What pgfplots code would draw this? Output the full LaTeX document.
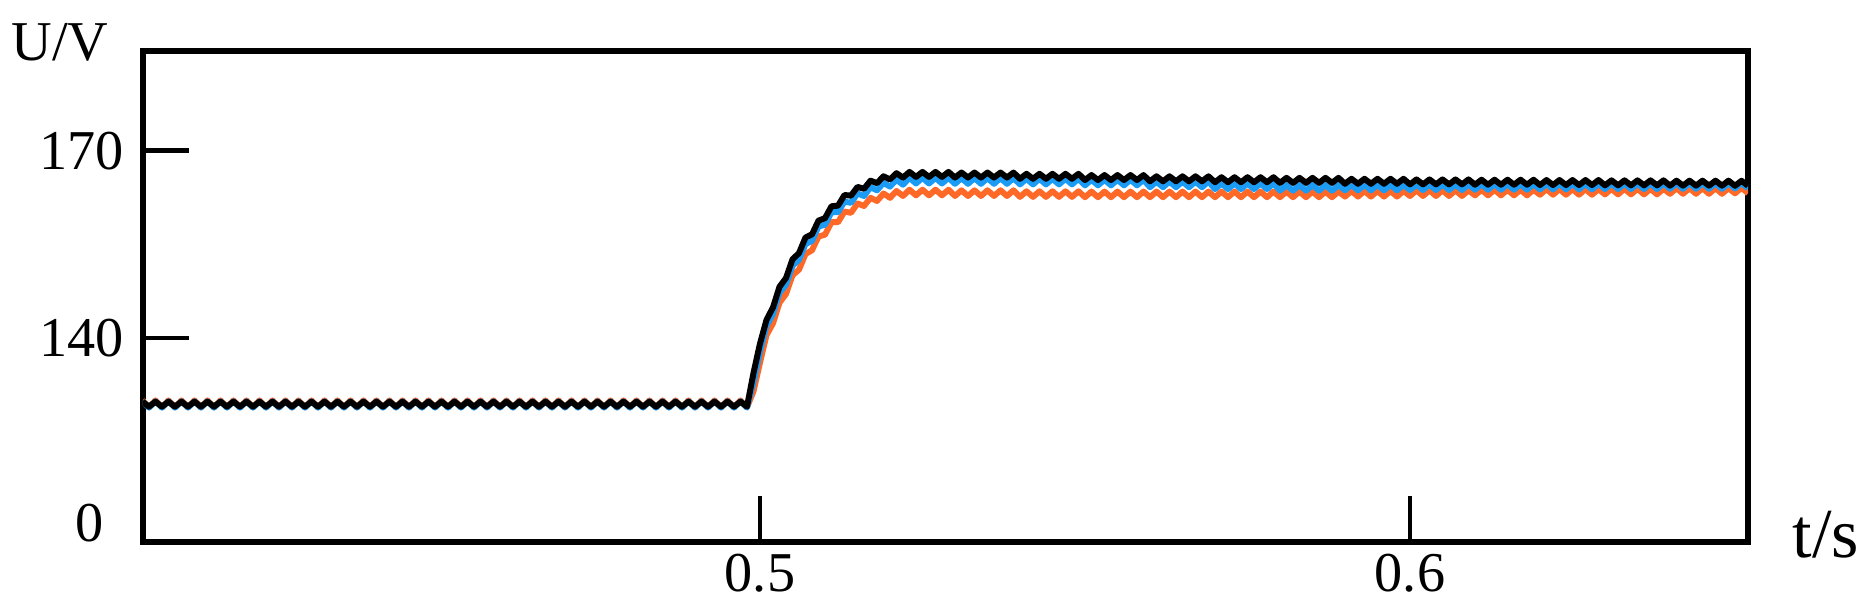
\documentclass[border=0pt]{standalone}
\usepackage{pgfplots}
\pgfplotsset{compat=1.18}
\usepackage{pgfplotstable}
\usepackage{fontspec}
\setmainfont{Liberation Serif}
\definecolor{cblue}{RGB}{28,155,245}
\definecolor{corange}{RGB}{255,105,40}
\pgfplotstableread{
t k b o
0.405 129.8 129.85 130.0
0.406 129.0 128.85 128.9
0.407 129.8 129.85 130.0
0.408 129.0 128.85 128.9
0.409 129.8 129.85 130.0
0.410 129.0 128.85 128.9
0.411 129.8 129.85 130.0
0.412 129.0 128.85 128.9
0.413 129.8 129.85 130.0
0.414 129.0 128.85 128.9
0.415 129.8 129.85 130.0
0.416 129.0 128.85 128.9
0.417 129.8 129.85 130.0
0.418 129.0 128.85 128.9
0.419 129.8 129.85 130.0
0.420 129.0 128.85 128.9
0.421 129.8 129.85 130.0
0.422 129.0 128.85 128.9
0.423 129.8 129.85 130.0
0.424 129.0 128.85 128.9
0.425 129.8 129.85 130.0
0.426 129.0 128.85 128.9
0.427 129.8 129.85 130.0
0.428 129.0 128.85 128.9
0.429 129.8 129.85 130.0
0.430 129.0 128.85 128.9
0.431 129.8 129.85 130.0
0.432 129.0 128.85 128.9
0.433 129.8 129.85 130.0
0.434 129.0 128.85 128.9
0.435 129.8 129.85 130.0
0.436 129.0 128.85 128.9
0.437 129.8 129.85 130.0
0.438 129.0 128.85 128.9
0.439 129.8 129.85 130.0
0.440 129.0 128.85 128.9
0.441 129.8 129.85 130.0
0.442 129.0 128.85 128.9
0.443 129.8 129.85 130.0
0.444 129.0 128.85 128.9
0.445 129.8 129.85 130.0
0.446 129.0 128.85 128.9
0.447 129.8 129.85 130.0
0.448 129.0 128.85 128.9
0.449 129.8 129.85 130.0
0.450 129.0 128.85 128.9
0.451 129.8 129.85 130.0
0.452 129.0 128.85 128.9
0.453 129.8 129.85 130.0
0.454 129.0 128.85 128.9
0.455 129.8 129.85 130.0
0.456 129.0 128.85 128.9
0.457 129.8 129.85 130.0
0.458 129.0 128.85 128.9
0.459 129.8 129.85 130.0
0.460 129.0 128.85 128.9
0.461 129.8 129.85 130.0
0.462 129.0 128.85 128.9
0.463 129.8 129.85 130.0
0.464 129.0 128.85 128.9
0.465 129.8 129.85 130.0
0.466 129.0 128.85 128.9
0.467 129.8 129.85 130.0
0.468 129.0 128.85 128.9
0.469 129.8 129.85 130.0
0.470 129.0 128.85 128.9
0.471 129.8 129.85 130.0
0.472 129.0 128.85 128.9
0.473 129.8 129.85 130.0
0.474 129.0 128.85 128.9
0.475 129.8 129.85 130.0
0.476 129.0 128.85 128.9
0.477 129.8 129.85 130.0
0.478 129.0 128.85 128.9
0.479 129.8 129.85 130.0
0.480 129.0 128.85 128.9
0.481 129.8 129.85 130.0
0.482 129.0 128.85 128.9
0.483 129.8 129.85 130.0
0.484 129.0 128.85 128.9
0.485 129.8 129.85 130.0
0.486 129.0 128.85 128.9
0.487 129.8 129.85 130.0
0.488 129.0 128.85 128.9
0.489 129.8 129.85 130.0
0.490 129.0 128.85 128.9
0.491 129.8 129.85 130.0
0.492 129.0 128.85 128.9
0.493 129.8 129.85 130.0
0.494 129.0 128.85 128.9
0.495 129.8 129.85 130.0
0.496 129.0 128.85 128.9
0.497 129.8 129.85 130.0
0.498 129.0 128.85 128.9
0.499 134.4 132.95 131.45
0.500 139.1 137.85 136.05
0.501 142.9 141.95 140.45
0.502 144.9 143.85 142.35
0.503 148.2 147.25 145.65
0.504 149.6 148.55 147.05
0.505 152.6 151.55 150.05
0.506 153.6 152.55 150.95
0.507 156.1 155.05 153.45
0.508 156.6 155.55 154.05
0.509 158.8 157.85 156.25
0.510 159.2 158.15 156.55
0.511 161.1 160.15 158.55
0.512 161.2 160.15 158.55
0.513 162.9 161.85 160.25
0.514 162.8 161.65 160.05
0.515 164.2 163.15 161.55
0.516 163.9 162.75 161.15
0.517 165.2 164.15 162.45
0.518 164.8 163.65 161.95
0.519 165.9 164.85 163.15
0.520 165.4 164.25 162.45
0.521 166.4 165.35 163.55
0.522 165.7 164.55 162.75
0.523 166.6 165.65 163.75
0.524 165.8 164.75 162.85
0.525 166.6 165.65 163.75
0.526 165.8 164.75 162.85
0.527 166.6 165.65 163.75
0.528 165.8 164.75 162.85
0.529 166.6 165.65 163.75
0.530 165.7 164.7 162.75
0.531 166.5 165.6 163.65
0.532 165.7 164.7 162.75
0.533 166.5 165.6 163.65
0.534 165.7 164.7 162.75
0.535 166.5 165.6 163.65
0.536 165.7 164.7 162.75
0.537 166.5 165.6 163.65
0.538 165.7 164.7 162.75
0.539 166.5 165.6 163.65
0.540 165.5 164.6 162.6
0.541 166.3 165.5 163.5
0.542 165.5 164.6 162.6
0.543 166.3 165.5 163.5
0.544 165.5 164.6 162.6
0.545 166.3 165.5 163.5
0.546 165.5 164.6 162.6
0.547 166.3 165.5 163.5
0.548 165.5 164.6 162.6
0.549 166.3 165.5 163.5
0.550 165.3 164.45 162.55
0.551 166.1 165.35 163.45
0.552 165.3 164.45 162.55
0.553 166.1 165.35 163.45
0.554 165.3 164.45 162.55
0.555 166.1 165.35 163.45
0.556 165.3 164.45 162.55
0.557 166.1 165.35 163.45
0.558 165.3 164.45 162.55
0.559 166.1 165.35 163.45
0.560 165.1 164.15 162.55
0.561 165.9 165.05 163.45
0.562 165.1 164.15 162.55
0.563 165.9 165.05 163.45
0.564 165.1 164.15 162.55
0.565 165.9 165.05 163.45
0.566 165.1 164.15 162.55
0.567 165.9 165.05 163.45
0.568 165.1 164.15 162.55
0.569 165.9 165.05 163.45
0.570 164.95 163.85 162.55
0.571 165.75 164.75 163.45
0.572 164.95 163.85 162.55
0.573 165.75 164.75 163.45
0.574 164.95 163.85 162.55
0.575 165.75 164.75 163.45
0.576 164.95 163.85 162.55
0.577 165.75 164.75 163.45
0.578 164.95 163.85 162.55
0.579 165.75 164.75 163.45
0.580 164.85 163.6 162.55
0.581 165.65 164.5 163.45
0.582 164.85 163.6 162.55
0.583 165.65 164.5 163.45
0.584 164.85 163.6 162.55
0.585 165.65 164.5 163.45
0.586 164.85 163.6 162.55
0.587 165.65 164.5 163.45
0.588 164.85 163.6 162.55
0.589 165.65 164.5 163.45
0.590 164.7 163.65 162.65
0.591 165.5 164.55 163.55
0.592 164.7 163.65 162.65
0.593 165.5 164.55 163.55
0.594 164.7 163.65 162.65
0.595 165.5 164.55 163.55
0.596 164.7 163.65 162.65
0.597 165.5 164.55 163.55
0.598 164.7 163.65 162.65
0.599 165.5 164.55 163.55
0.600 164.6 163.7 162.75
0.601 165.4 164.6 163.65
0.602 164.6 163.7 162.75
0.603 165.4 164.6 163.65
0.604 164.6 163.7 162.75
0.605 165.4 164.6 163.65
0.606 164.6 163.7 162.75
0.607 165.4 164.6 163.65
0.608 164.6 163.7 162.75
0.609 165.4 164.6 163.65
0.610 164.55 163.75 162.85
0.611 165.35 164.65 163.75
0.612 164.55 163.75 162.85
0.613 165.35 164.65 163.75
0.614 164.55 163.75 162.85
0.615 165.35 164.65 163.75
0.616 164.55 163.75 162.85
0.617 165.35 164.65 163.75
0.618 164.55 163.75 162.85
0.619 165.35 164.65 163.75
0.620 164.5 163.8 162.95
0.621 165.3 164.7 163.85
0.622 164.5 163.8 162.95
0.623 165.3 164.7 163.85
0.624 164.5 163.8 162.95
0.625 165.3 164.7 163.85
0.626 164.5 163.8 162.95
0.627 165.3 164.7 163.85
0.628 164.5 163.8 162.95
0.629 165.3 164.7 163.85
0.630 164.45 163.85 163.0
0.631 165.25 164.75 163.9
0.632 164.45 163.85 163.0
0.633 165.25 164.75 163.9
0.634 164.45 163.85 163.0
0.635 165.25 164.75 163.9
0.636 164.45 163.85 163.0
0.637 165.25 164.75 163.9
0.638 164.45 163.85 163.0
0.639 165.25 164.75 163.9
0.640 164.4 163.9 163.1
0.641 165.2 164.8 164.0
0.642 164.4 163.9 163.1
0.643 165.2 164.8 164.0
0.644 164.4 163.9 163.1
0.645 165.2 164.8 164.0
0.646 164.4 163.9 163.1
0.647 165.2 164.8 164.0
0.648 164.4 163.9 163.1
0.649 165.2 164.8 164.0
0.650 164.38 163.95 163.17
0.651 165.18 164.85 164.07
0.652 164.38 163.95 163.17
}\datatab
\begin{document}
\begin{tikzpicture}
\useasboundingbox (-1.43,-0.72) rectangle (17.28,5.42);
\begin{axis}[
  at={(0,0)}, anchor=south west,
  scale only axis, width=16.05cm, height=4.91cm,
  xmin=0.40508, xmax=0.652, ymin=107.32, ymax=185.97,
  axis line style={line width=1.8pt},
  tick align=inside, xtick pos=lower, ytick pos=left,
  major tick length=0.46cm,
  tick style={line width=1.4pt, black},
  xtick={0.5,0.6}, xticklabels={0.5,0.6},
  ytick={140,170}, yticklabels={140,170},
  extra y ticks={110.4}, extra y tick labels={0},
  extra y tick style={major tick length=0pt, yticklabel style={xshift=-0.2cm}},
  ticklabel style={font=\fontsize{16}{19}\selectfont},
  yticklabel style={xshift=-0.07cm},
  /pgf/number format/assume math mode=true,
  every axis plot/.append style={line width=1.7pt, line join=round},
]
\addplot[corange, no markers] table[x=t, y=o] {\datatab};
\addplot[cblue, no markers] table[x=t, y=b] {\datatab};
\addplot[black, no markers] table[x=t, y=k] {\datatab};
\end{axis}
\node[anchor=base, font=\fontsize{16}{19}\selectfont] at (-0.83,4.82) {U/V};
\node[anchor=base, font=\fontsize{20}{24}\selectfont] at (16.83,-0.15) {t/s};
\end{tikzpicture}
\end{document}
